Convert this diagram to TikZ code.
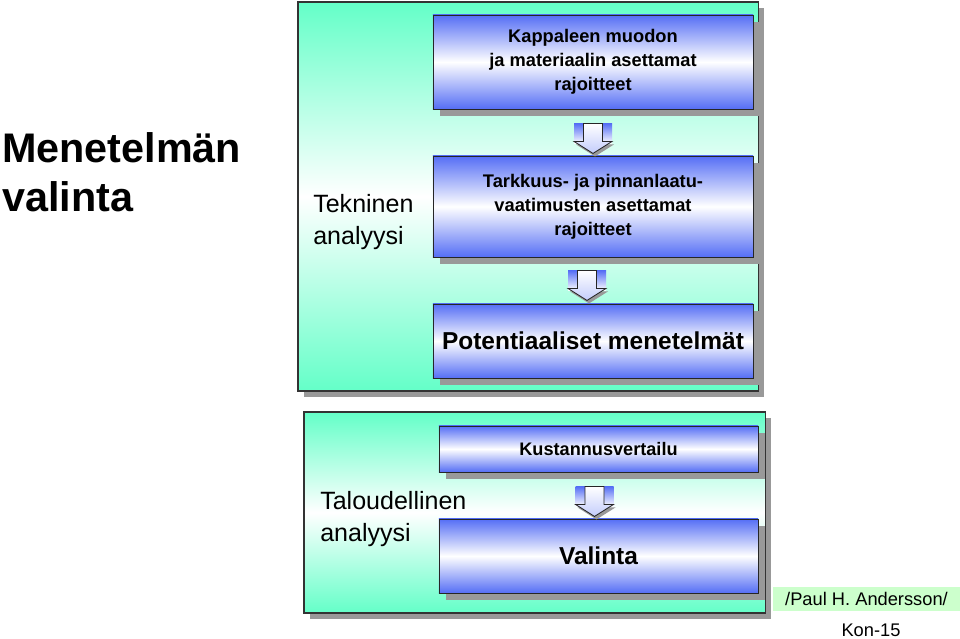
\documentclass[tikz,border=0pt]{standalone}
\usepackage{fontspec}
\setmainfont{Liberation Sans}
\usetikzlibrary{shadows,calc}
\definecolor{mint}{RGB}{100,255,200}
\definecolor{boxblue}{RGB}{85,110,245}
\definecolor{siggreen}{RGB}{204,255,204}
\begin{document}
\begin{tikzpicture}[x=0.025cm,y=-0.025cm,
        panel/.style={
            draw=black!80,
            line width=0.8pt,
            top color=mint, bottom color=mint, middle color=white,
            drop shadow={shadow xshift=4.5pt, shadow yshift=-4.5pt, fill=gray!80, opacity=1}
        },
        box/.style={
            draw=black!85,
            line width=0.6pt,
            top color=boxblue, bottom color=boxblue, middle color=white,
            minimum width=8cm,
            align=center,
            font=\bfseries\fontsize{13}{17}\selectfont,
            drop shadow={shadow xshift=5pt, shadow yshift=-5pt, fill=gray!80, opacity=1}
        },
        sidetext/.style={align=left, inner sep=0pt, font=\fontsize{17.8}{22.8}\selectfont},
        flowarrow/.pic={
            \shade[top color=boxblue, bottom color=white] (-19,0) rectangle (19,20);
            \fill[gray!80] (-17,21) -- (21,21) -- (2,33) -- cycle;
            \draw[black!85, line width=0.6pt, top color=white, bottom color=boxblue!35]
                (-9.5,0) -- (9.5,0) -- (9.5,18) -- (19,18) -- (0,30) -- (-19,18) -- (-9.5,18) -- cycle;
        }
    ]
    \useasboundingbox (0,0) rectangle (960,638);

    % =========================
    % Title
    % =========================
    \node[sidetext, font=\bfseries\fontsize{29.4}{34.5}\selectfont, anchor=west] (title) at (2,172) {Menetelmän\\valinta};

    % =========================
    % Tekninen analyysi
    % =========================
    \node[panel, minimum width=11.5cm, minimum height=9.725cm] (tekpanel) at (528,196.5) {};
    \node[sidetext, anchor=west] (teklabel) at (313,222) {Tekninen\\analyysi};

    \node[box, minimum height=2.35cm]  (muoto)  at (593,62)    {Kappaleen muodon\\ja materiaalin asettamat\\rajoitteet};
    \node[box, minimum height=2.525cm] (tark)   at (593,206.5) {Tarkkuus- ja pinnanlaatu-\\vaatimusten asettamat\\rajoitteet};
    \node[box, minimum height=1.85cm, font=\bfseries\fontsize{17.4}{20}\selectfont] (potent) at (593,341) {Potentiaaliset menetelmät};

    \pic at ($(muoto.south)+(0,14)$) {flowarrow};
    \pic at ($(tark.south)+(-6,13)$) {flowarrow};

    % =========================
    % Taloudellinen analyysi
    % =========================
    \node[panel, minimum width=11.525cm, minimum height=5.025cm] (talpanel) at (534.5,512.5) {};
    \node[sidetext, anchor=west] (tallabel) at (320,519) {Taloudellinen\\analyysi};

    \node[box, minimum width=7.975cm, minimum height=1.15cm, font=\bfseries\fontsize{12.9}{17}\selectfont] (kust) at (598.5,449) {Kustannusvertailu};
    \node[box, minimum width=7.975cm, minimum height=1.85cm, font=\bfseries\fontsize{17.4}{20}\selectfont] (valinta) at (598.5,556) {Valinta};

    \pic at ($(kust.south)+(-4,14)$) {flowarrow};

    % =========================
    % Signature
    % =========================
    \node[fill=siggreen, minimum width=4.675cm, minimum height=0.6cm, inner sep=0pt,
          font=\fontsize{13}{15}\selectfont] (sig) at (866.5,599) {/Paul H. Andersson/};
    \node[font=\fontsize{13}{15}\selectfont, inner sep=0pt] (kon) at (871,630) {Kon-15};

\end{tikzpicture}
\end{document}
